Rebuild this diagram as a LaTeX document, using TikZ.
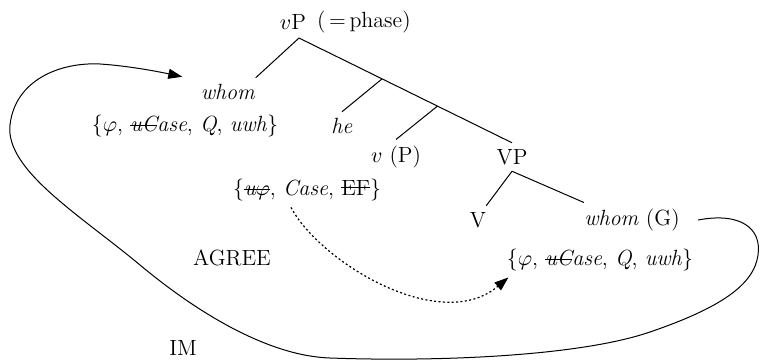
\documentclass[tikz,border=0pt]{standalone}
\usetikzlibrary{arrows.meta,calc}

\newcommand{\crossout}[2][0.55ex]{\setbox0=\hbox{#2}\rlap{\rule[#1]{\wd0}{0.45pt}}\box0}

\begin{document}
\begin{tikzpicture}[x=0.5pt, y=-0.5pt, line width=0.5pt,
    >={Triangle[length=7pt,width=5pt]},
    every node/.style={inner sep=3pt, font=\fontsize{11}{13}\selectfont}]
    \useasboundingbox (0,0) rectangle (764,363);

    % Tree nodes
    \node (vP) at (293,22) {$v$P};
    \node[right, inner sep=2pt] (phase) at (vP.east) {(\,=\,phase)};
    \node (whom) at (228,92) {\textit{whom}};
    \node (featW) at (185,126) {$\{\varphi$, \textit{\crossout{uC}ase}, \textit{Q}, \textit{uwh}$\}$};
    \node (he) at (342,126) {\textit{he}};
    \node (v) at (396,157) {$v$ (P)};
    \node (VP) at (512,157) {VP};
    \node (featv) at (307,190) {$\{$\textit{\crossout{u$\varphi$}}, \textit{Case}, \crossout[0.75ex]{EF}$\}$};
    \node (V) at (478,220) {V};
    \node (whomG) at (632,220) {\textit{whom} (G)};
    \node (featG) at (600,260) {$\{\varphi$, \textit{\crossout{uC}ase}, \textit{Q}, \textit{uwh}$\}$};

    % Labels
    \node (agree) at (232,258) {AGREE};
    \node (im) at (183,348) {IM};

    % Branch points
    \coordinate (root) at ([shift={(6,2)}]vP.south);
    \coordinate (b1) at ($(root)!0.39!(VP.north)$);
    \coordinate (b2) at ($(root)!0.65!(VP.north)$);

    % Lines
    \draw (root) -- ([shift={(-6,0)}]whom.north east);
    \draw (root) -- (VP.north);
    \draw (b1) -- (he.north);
    \draw (b2) -- (v.north);
    \draw (VP.south) -- (V.60);
    \draw (VP.south) -- ([shift={(6,0)}]whomG.north west);

    % AGREE
    \draw[->, dash pattern=on 1pt off 1.2pt, line width=0.6pt]
        ([shift={(-16,0)}]featv.south) .. controls (320,262) and (440,335) .. ([shift={(8,0)}]featG.south west);

    % IM
    \draw[->] ([shift={(12,0)}]whomG.east) .. controls (740,212) and (762,228) .. (758,255)
        .. controls (754,285) and (720,308) .. (650,332)
        .. controls (580,356) and (440,362) .. (330,358)
        .. controls (270,356) and (200,315) .. (140,265)
        .. controls (80,215) and (5,170) .. (10,125)
        .. controls (15,80) and (60,62) .. (100,64)
        .. controls (130,66) and (160,72) .. ([shift={(-12,-1)}]whom.north west);
\end{tikzpicture}
\end{document}
